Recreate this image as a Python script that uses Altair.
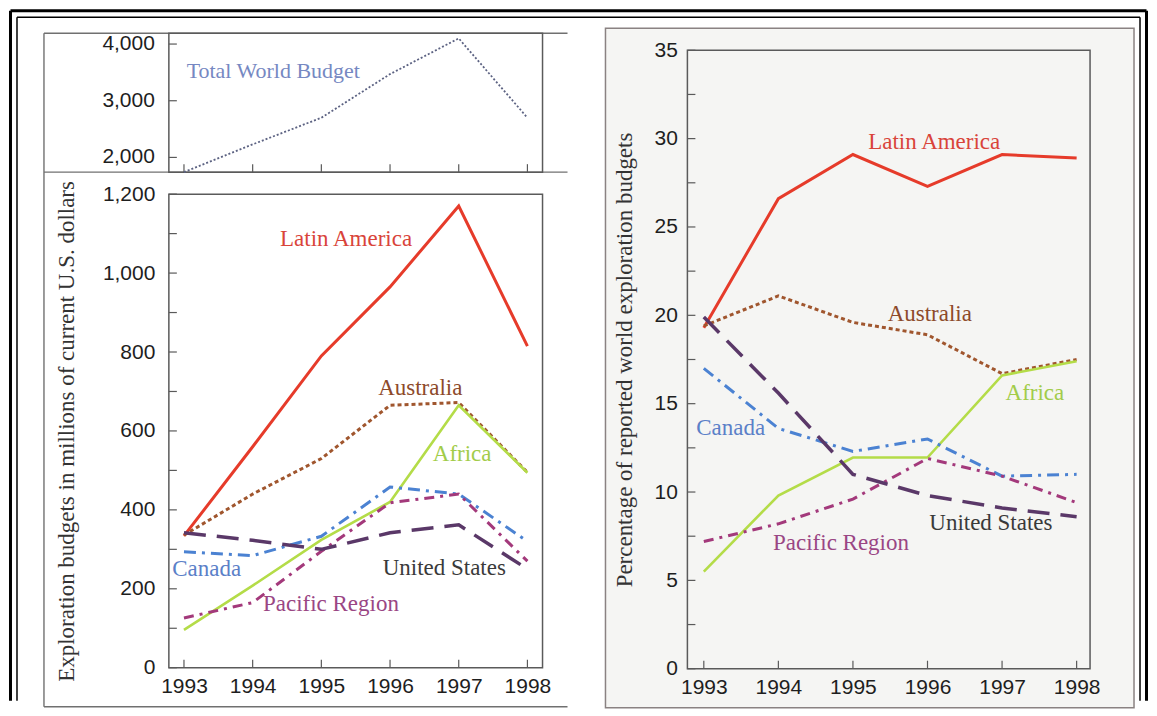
import altair as alt
import pandas as pd

# ---------------- data ----------------
years = [1993, 1994, 1995, 1996, 1997, 1998]
total_world_budget = [1740, 2230, 2700, 3470, 4100, 2700]

regions = ["Latin America", "Australia", "Africa", "Canada", "Pacific Region", "United States"]

budget_latin_america = [334, 560, 790, 965, 1170, 815]
budget_australia = [336, 440, 530, 665, 672, 495]
budget_africa = [96, 208, 324, 420, 665, 494]
budget_canada = [294, 284, 333, 458, 440, 320]
budget_pacific = [126, 165, 295, 418, 440, 270]
budget_united_states = [342, 323, 300, 342, 362, 250]

pct_latin_america = [19.3, 26.6, 29.1, 27.3, 29.1, 28.9]
pct_australia = [19.4, 21.1, 19.6, 18.9, 16.7, 17.5]
pct_africa = [5.5, 9.8, 11.95, 11.95, 16.6, 17.4]
pct_canada = [17.0, 13.6, 12.3, 13.0, 10.9, 11.0]
pct_pacific = [7.2, 8.2, 9.6, 11.9, 10.9, 9.4]
pct_united_states = [19.9, 15.6, 11.0, 9.8, 9.1, 8.6]

budget_values = [budget_latin_america, budget_australia, budget_africa,
                 budget_canada, budget_pacific, budget_united_states]
pct_values = [pct_latin_america, pct_australia, pct_africa,
              pct_canada, pct_pacific, pct_united_states]

# label anchor points (in data units)
left_label_year = [1995.36, 1996.44, 1997.05, 1993.33, 1995.14, 1996.79]
left_label_value = [1086, 709, 542, 250, 162, 253]
right_label_year = [1996.09, 1996.03, 1997.44, 1993.36, 1994.84, 1996.85]
right_label_value = [29.8, 20.1, 15.6, 13.6, 7.13, 8.27]
total_label_year = [1994.3]
total_label_value = [3530]

# axis tick values
left_y_ticks = list(range(0, 1201, 100))
left_y_labels = list(range(0, 1201, 200))
top_y_ticks = [2000, 3000, 4000]
right_y_ticks = [i * 2.5 for i in range(0, 15)]
right_y_labels = [0, 5, 10, 15, 20, 25, 30, 35]

# ---------------- styles / layout ----------------
line_colors = ["#e63b2a", "#a0562e", "#b4dc48", "#4b82d2", "#a3397b", "#5a3868"]
line_dashes = [None, [4, 3], None, [12, 6, 3, 6], [10, 6, 3, 6], [22, 11]]
line_widths = [3, 3, 2.6, 3, 3, 3.5]
label_colors = ["#d9443a", "#8d4a2a", "#a2cc4a", "#5b80c8", "#9a4684", "#3a3a3a"]

SANS = "Liberation Sans"
SERIF = "Liberation Serif"
FRAME = "#5a5a5a"
L_W, L_H = 374, 635          # left column (top + bottom panels)
TOP_RANGE = [139, 0]         # top panel pixel range
BOT_RANGE = [635, 161]       # bottom panel pixel range
R_W, R_H = 403, 636
R_RANGE = [636, 17]
LABEL_FS = 23
TITLE_FS = 23

one = pd.DataFrame({"k": [0]})


def long_df(values):
    rows = []
    for name, vals in zip(regions, values):
        for y, v in zip(years, vals):
            rows.append({"series": name, "year": y, "value": v})
    return pd.DataFrame(rows)


def x_scale(domain):
    return alt.Scale(domain=domain, nice=False, zero=False)


def y_scale(domain, rng):
    return alt.Scale(domain=domain, range=rng, nice=False, zero=False)


def x_axis_enc(domain):
    return alt.X("year:Q", scale=x_scale(domain),
                 axis=alt.Axis(values=years, format="d", orient="bottom", ticks=False,
                               tickSize=0, domain=False, grid=False, labelPadding=8,
                               labelFont=SANS, labelFontSize=21, labelColor="#1e1e1e",
                               zindex=1),
                 title=None)


def x_plain(domain):
    return alt.X("year:Q", scale=x_scale(domain), axis=None)


def y_axis_enc(domain, rng, label_values, fmt, title, title_x, pad):
    return alt.Y("value:Q", scale=y_scale(domain, rng),
                 axis=alt.Axis(values=label_values, format=fmt, orient="left", ticks=False,
                               tickSize=0, domain=False, grid=False, labelPadding=pad,
                               labelFont=SANS, labelFontSize=21, labelColor="#1e1e1e",
                               title=title, titleX=title_x, titleFont=SERIF,
                               titleFontSize=TITLE_FS, titleFontWeight="normal",
                               titleColor="#333333", zindex=1))


def y_plain(domain, rng):
    return alt.Y("value:Q", scale=y_scale(domain, rng), axis=None)


def deco_rule(x1, x2, y1, y2, color, width):
    return alt.Chart(one).mark_rule(color=color, strokeWidth=width).encode(
        x=alt.value(x1), x2=alt.value(x2), y=alt.value(y1), y2=alt.value(y2))


def deco_rect(x1, x2, y1, y2, fill, stroke, width):
    return alt.Chart(one).mark_rect(fill=fill, stroke=stroke, strokeWidth=width).encode(
        x=alt.value(x1), x2=alt.value(x2), y=alt.value(y1), y2=alt.value(y2))


def y_tick_layer(yticks, ye):
    return alt.Chart(pd.DataFrame({"value": yticks})).mark_rule(
        color=FRAME, strokeWidth=1.2).encode(y=ye, x=alt.value(0), x2=alt.value(8))


def x_tick_layer(xe, ybottom):
    return alt.Chart(pd.DataFrame({"year": years})).mark_rule(
        color=FRAME, strokeWidth=1.2).encode(x=xe, y=alt.value(ybottom), y2=alt.value(ybottom - 8))


def series_layers(df, xe, ye):
    layers = []
    for name, col, dash, w in zip(regions, line_colors, line_dashes, line_widths):
        kw = dict(color=col, strokeWidth=w)
        if dash is not None:
            kw["strokeDash"] = dash
        layers.append(alt.Chart(df).transform_filter(alt.datum.series == name)
                      .mark_line(**kw).encode(x=xe, y=ye, order="year:Q"))
    return layers


def label_layer(xs, vs, xe, ye):
    ldf = pd.DataFrame({"name": regions, "year": xs, "value": vs})
    return alt.Chart(ldf).mark_text(font=SERIF, fontSize=LABEL_FS, align="center",
                                    baseline="middle").encode(
        x=xe, y=ye, text="name:N",
        color=alt.Color("name:N", scale=alt.Scale(domain=regions, range=label_colors),
                        legend=None))


# ---------------- left column: total (top) + budgets (bottom) ----------------
LX = [1992.78, 1998.22]
xe_l_axis = x_axis_enc(LX)
xe_l = x_plain(LX)
ye_top = y_plain([1740, 4190], TOP_RANGE)
ye_bot_axis = y_axis_enc([0, 1200], BOT_RANGE, left_y_labels, ",d",
                         "Exploration budgets in millions of current U.S. dollars", -90, 14)
ye_bot = y_plain([0, 1200], BOT_RANGE)

total_df = pd.DataFrame({"year": years, "value": total_world_budget})

left = alt.layer(
    # outer double frame of the whole figure
    deco_rule(-158.5, -158.5, -22.5, 668, "#000000", 3),
    deco_rule(-158.5, 978.5, -22.5, -22.5, "#000000", 3),
    deco_rule(978.5, 978.5, -22.5, 668, "#000000", 3),
    deco_rule(-152, -152, -16, 668, "#000000", 1.5),
    deco_rule(-152, 972, -16, -16, "#000000", 1.5),
    deco_rule(972, 972, -16, 668, "#000000", 1.5),
    # left figure box
    deco_rule(-125, -125, 0, 674, "#707070", 1.4),
    deco_rule(-125, 399, 0, 0, "#707070", 1.4),
    deco_rule(-125, 399, 674, 674, "#707070", 1.4),
    deco_rule(-125, 399, 139, 139, "#707070", 1.4),
    # panel frames
    deco_rect(0, L_W, 0, 139, "transparent", FRAME, 1.5),
    deco_rect(0, L_W, 161, 635, "transparent", FRAME, 1.5),
    # bottom panel axes + inward ticks
    alt.Chart(pd.DataFrame({"value": left_y_ticks})).mark_rule(
        color=FRAME, strokeWidth=1.2).encode(y=ye_bot_axis, x=alt.value(0), x2=alt.value(8)),
    alt.Chart(pd.DataFrame({"year": years})).mark_rule(
        color=FRAME, strokeWidth=1.2).encode(x=xe_l_axis, y=alt.value(635), y2=alt.value(627)),
    # top panel ticks and tick labels
    y_tick_layer(top_y_ticks, ye_top),
    x_tick_layer(xe_l, 139),
    alt.Chart(pd.DataFrame({"value": top_y_ticks})).mark_text(
        font=SANS, fontSize=21, color="#1e1e1e", align="right", baseline="middle").encode(
        x=alt.value(-14), y=ye_top, text=alt.Text("value:Q", format=",d")),
    # total world budget
    alt.Chart(total_df).mark_line(color="#5c6282", strokeWidth=1.8, strokeDash=[2, 2]).encode(
        x=xe_l, y=ye_top),
    alt.Chart(pd.DataFrame({"name": ["Total World Budget"], "year": total_label_year,
                            "value": total_label_value})).mark_text(
        font=SERIF, fontSize=22, color="#7688c2", align="center", baseline="middle").encode(
        x=xe_l, y=ye_top, text="name:N"),
    # regional budgets
    *series_layers(long_df(budget_values), xe_l, ye_bot),
    label_layer(left_label_year, left_label_value, xe_l, ye_bot),
).resolve_scale(x="independent", y="independent").properties(width=L_W, height=L_H)

# ---------------- right: percentages ----------------
RX = [1992.78, 1998.18]
xe_r_axis = x_axis_enc(RX)
xe_r = x_plain(RX)
ye_r_axis = y_axis_enc([0, 35], R_RANGE, right_y_labels, "d",
                       "Percentage of reported world exploration budgets", -51, 10)
ye_r = y_plain([0, 35], R_RANGE)

right = alt.layer(
    deco_rect(-82, 447, -5, 675, "#f5f5f3", "#8a8282", 1.5),
    deco_rect(0, R_W, 17, R_H, "transparent", FRAME, 1.5),
    alt.Chart(pd.DataFrame({"value": right_y_ticks})).mark_rule(
        color=FRAME, strokeWidth=1.2).encode(y=ye_r_axis, x=alt.value(0), x2=alt.value(8)),
    alt.Chart(pd.DataFrame({"year": years})).mark_rule(
        color=FRAME, strokeWidth=1.2).encode(x=xe_r_axis, y=alt.value(R_H), y2=alt.value(R_H - 8)),
    *series_layers(long_df(pct_values), xe_r, ye_r),
    label_layer(right_label_year, right_label_value, xe_r, ye_r),
).resolve_scale(x="independent", y="independent").properties(width=R_W, height=R_H)

chart = alt.hconcat(left, right, spacing=145, bounds="flush").resolve_scale(
    x="independent", y="independent", color="independent").properties(
    padding=0, background="white"
).configure_view(stroke="transparent")

chart.save("out.html", embed_options={"renderer": "svg", "actions": False})
